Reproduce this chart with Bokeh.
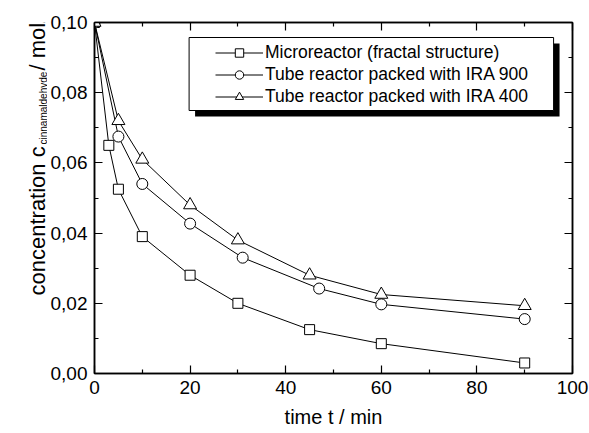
import numpy as np
from bokeh.plotting import figure
from bokeh.layouts import row
from bokeh.models import (Range1d, LinearAxis, FixedTicker, CustomJSTickFormatter,
                          Legend, LegendItem, BoxAnnotation, Label)
from bokeh.embed import file_html
from bokeh.resources import INLINE

# ---------------- data ----------------
series_names = ["Microreactor (fractal structure)",
                "Tube reactor packed with IRA 900",
                "Tube reactor packed with IRA 400"]
time_micro = [0, 3, 5, 10, 20, 30, 45, 60, 90]
c_micro = [0.100, 0.065, 0.0525, 0.039, 0.028, 0.020, 0.0125, 0.0085, 0.003]
time_ira900 = [0, 5, 10, 20, 31, 47, 60, 90]
c_ira900 = [0.100, 0.0675, 0.054, 0.0427, 0.033, 0.0242, 0.0197, 0.0155]
time_ira400 = [0, 5, 10, 20, 30, 45, 60, 90]
c_ira400 = [0.100, 0.072, 0.061, 0.048, 0.038, 0.028, 0.0225, 0.0193]
x_ticks = [0, 20, 40, 60, 80, 100]
x_minor = [10, 30, 50, 70, 90]
y_ticks = [0.00, 0.02, 0.04, 0.06, 0.08, 0.10]
y_minor = [0.01, 0.03, 0.05, 0.07, 0.09]
x_label = "time t / min"
y_label_main = "concentration c"
y_label_sub = "cinnamaldehyde"
y_label_unit = "/ mol/l"

FONT = "Liberation Sans"
X0, X1 = 0, 100
Y0, Y1 = 0.0, 0.10
W, H = 589, 433
LW = 47                             # width of the y-title strip
FL, FR, FT, FB = 92, 572, 22, 373   # frame in page pixels


# ---------------- y-title strip ----------------
lf = figure(width=LW, height=H, output_backend="svg", title=None,
            toolbar_location=None, x_axis_location=None, y_axis_location=None,
            x_range=Range1d(0, LW), y_range=Range1d(0, H),
            min_border=0, min_border_left=0, min_border_right=0,
            min_border_top=0, min_border_bottom=0)
lf.grid.visible = False
lf.outline_line_color = None
lf.background_fill_color = "white"
lf.border_fill_color = "white"


def add_label(fig, text, sx, sy, size, angle=0.0, align="left"):
    fig.add_layout(Label(x=sx, y=sy, x_units="screen", y_units="screen",
                         text=text, angle=angle, text_font=FONT,
                         text_font_size=size, text_baseline="alphabetic",
                         text_align=align, text_color="black"))


add_label(lf, y_label_main, 37, H - 355, "22px", angle=np.pi / 2)
add_label(lf, y_label_sub, 43, H - 204, "10px", angle=np.pi / 2)
add_label(lf, y_label_unit, 37, H - 130, "22px", angle=np.pi / 2)

# ---------------- main plot ----------------
p = figure(width=W - LW, height=H, output_backend="svg", toolbar_location=None,
           title=None, x_range=Range1d(X0, X1), y_range=Range1d(Y0, Y1),
           min_border_left=FL - LW, min_border_right=W - FR,
           min_border_top=FT, min_border_bottom=H - FB)
p.grid.visible = False
p.outline_line_color = "black"
p.outline_line_width = 1.5
p.background_fill_color = "white"
p.border_fill_color = "white"

y_fmt = CustomJSTickFormatter(code="return tick.toFixed(2).replace('.', ',');")
blank_fmt = CustomJSTickFormatter(code="return '';")


def style_axis(ax, ticks, minor, show_labels):
    ax.ticker = FixedTicker(ticks=ticks, minor_ticks=minor)
    ax.axis_line_width = 1.5
    ax.axis_line_color = "black"
    ax.major_tick_in = 8
    ax.major_tick_out = 0
    ax.minor_tick_in = 4
    ax.minor_tick_out = 0
    ax.major_tick_line_width = 1.2
    ax.minor_tick_line_width = 1.2
    ax.major_tick_line_color = "black"
    ax.minor_tick_line_color = "black"
    ax.major_label_text_font = FONT
    ax.major_label_text_font_size = "19px"
    ax.major_label_text_color = "black"
    if not show_labels:
        ax.formatter = blank_fmt
        ax.major_label_standoff = 0
        ax.major_label_text_font_size = "0px"


xb = p.xaxis[0]
style_axis(xb, x_ticks, x_minor, True)
xb.major_label_standoff = 7
xb.axis_label = x_label
xb.axis_label_text_font = FONT
xb.axis_label_text_font_size = "20px"
xb.axis_label_text_font_style = "normal"
xb.axis_label_text_color = "black"
xb.axis_label_standoff = 9

yl = p.yaxis[0]
style_axis(yl, y_ticks, y_minor, True)
yl.formatter = y_fmt
yl.major_label_standoff = 7

xt = LinearAxis()
style_axis(xt, x_ticks, x_minor, False)
p.add_layout(xt, "above")
yr = LinearAxis()
style_axis(yr, y_ticks, y_minor, False)
p.add_layout(yr, "right")

# ---------------- data glyphs ----------------
series = [(time_micro, c_micro, "square", 10),
          (time_ira900, c_ira900, "circle", 11),
          (time_ira400, c_ira400, "triangle", 13)]
items = []
for (t, c, marker, size), name in zip(series, series_names):
    ln = p.line(t, c, line_color="black", line_width=1)
    sc = p.scatter(t, c, marker=marker, size=size, fill_color="white",
                   line_color="black", line_width=1)
    items.append(LegendItem(label=name, renderers=[ln, sc]))


# ---------------- legend box with shadow ----------------
def px2x(px):
    return X0 + (px - FL) / (FR - FL) * (X1 - X0)


def py2y(py):
    return Y0 + (FB - py) / (FB - FT) * (Y1 - Y0)


BL, BR, BT, BB, SH = 187, 553, 37, 110, 6
p.add_layout(BoxAnnotation(left=px2x(BL + SH), right=px2x(BR + SH),
                           top=py2y(BT + SH), bottom=py2y(BB + SH),
                           fill_color="black", fill_alpha=1, line_color=None))
p.add_layout(BoxAnnotation(left=px2x(BL), right=px2x(BR),
                           top=py2y(BT), bottom=py2y(BB),
                           fill_color="white", fill_alpha=1,
                           line_color="black", line_width=1, line_alpha=1))

legend = Legend(items=items, location=(213 - FL, FB - 107), margin=0, padding=0,
                spacing=1, glyph_width=48, glyph_height=21, label_height=21,
                label_standoff=2, border_line_color=None,
                background_fill_alpha=0, label_text_font=FONT,
                label_text_font_size="17.5px", label_text_color="black")
p.add_layout(legend, "center")

layout = row(lf, p, spacing=0)
open("out.html", "w").write(file_html(layout, INLINE))
